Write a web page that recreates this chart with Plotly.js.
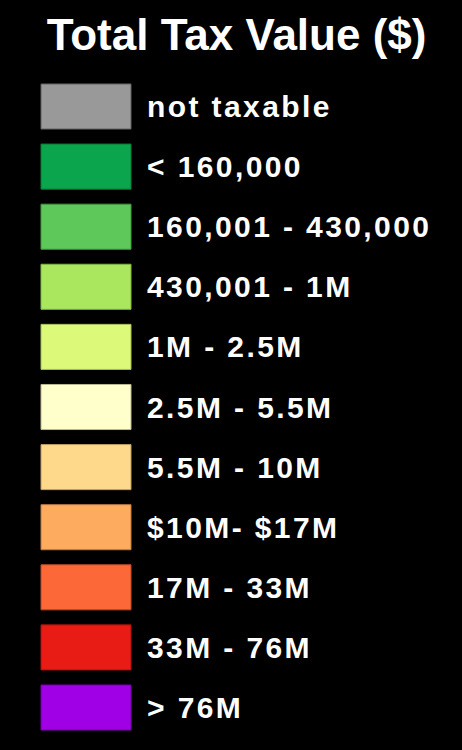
<!DOCTYPE html>
<html>
<head>
<meta charset="utf-8">
<script src="https://cdn.plot.ly/plotly-3.0.1.min.js"></script>
<style>
  html, body { margin: 0; padding: 0; background: #000; }
  #chart { width: 462px; height: 750px; }
  #chart .annotation-text { letter-spacing: 2.4px; }
</style>
</head>
<body>
<div id="chart"></div>
<script>
// Legend classes (top to bottom)
const categories = [
  "not taxable",
  "< 160,000",
  "160,001 - 430,000",
  "430,001 - 1M",
  "1M - 2.5M",
  "2.5M - 5.5M",
  "5.5M - 10M",
  "$10M- $17M",
  "17M - 33M",
  "33M - 76M",
  "> 76M"
];
// each swatch spans one unit
const swatchValues = [1, 1, 1, 1, 1, 1, 1, 1, 1, 1, 1];
const fillColors = [
  "#999999", "#0aa54c", "#5ec85a", "#abe65f", "#dcf97a",
  "#ffffcc", "#fed98b", "#fdab5e", "#fd6838", "#e81c14", "#a000e6"
];
const edgeColors = [
  "#5e5e5e", "#087a38", "#3f9a3e", "#7fb446", "#a4bc5a",
  "#b8b892", "#b89d63", "#b87b43", "#b84a28", "#a3140e", "#7000a3"
];
const titleText = "Total Tax Value ($)";

const idx = categories.map((c, i) => i);

const trace = {
  type: "bar",
  orientation: "h",
  y: idx,
  x: swatchValues,
  base: 0,
  width: 0.75,
  marker: { color: fillColors, line: { color: edgeColors, width: 1 } },
  hoverinfo: "skip",
  text: categories,
  textposition: "none"
};

const annotations = categories.map((c, i) => ({
  x: swatchValues[i], y: i, xref: "x", yref: "y",
  text: c, showarrow: false, xanchor: "left", yanchor: "middle", align: "left",
  xshift: 14,
  font: { family: "Liberation Sans, Arial, sans-serif", size: 30, color: "#ffffff", weight: "bold" }
}));

const layout = {
  width: 462, height: 750,
  paper_bgcolor: "#000000", plot_bgcolor: "#000000",
  margin: { l: 0, r: 0, t: 0, b: 0, pad: 0 },
  showlegend: false,
  title: {
    text: titleText,
    x: 0.512, xanchor: "center", xref: "paper",
    y: 1 - 35 / 750, yanchor: "middle", yref: "container",
    font: { family: "Liberation Sans, Arial, sans-serif", size: 44, color: "#ffffff", weight: "bold" }
  },
  xaxis: { range: [-41 / 90, 421 / 90], visible: false, fixedrange: true },
  yaxis: { range: [10.707, -1.772], visible: false, fixedrange: true },
  annotations: annotations,
  bargap: 0
};

Plotly.newPlot("chart", [trace], layout, { displayModeBar: false, staticPlot: true });
</script>
</body>
</html>
